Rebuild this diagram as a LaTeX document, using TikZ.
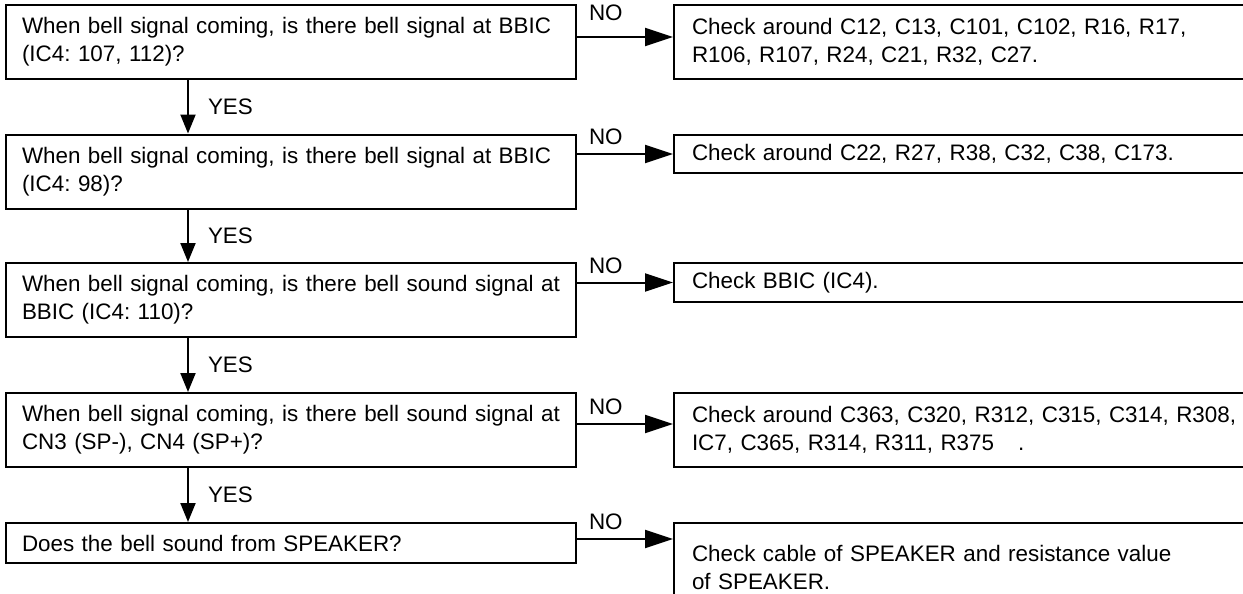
\documentclass[tikz,border=0pt]{standalone}
\usepackage{fontspec}
\setmainfont{Liberation Sans}
\usepackage{tikz}
\usetikzlibrary{
  arrows.meta,
  positioning
}
\frenchspacing

\begin{document}
\begin{tikzpicture}[
    x=0.5pt, y=-0.5pt,
    font=\fontsize{11.2pt}{14pt}\selectfont,
    query/.style={
      rectangle,
      draw=black,
      line width=1pt,
      minimum height=37pt,
      text width=269pt,
      inner xsep=8pt,
      inner ysep=0pt,
      align=left
    },
    action/.style={
      rectangle,
      draw=black,
      line width=1pt,
      text width=302pt,
      inner xsep=9pt,
      inner ysep=0pt,
      align=left
    },
    yesflow/.style={
      -{Triangle[length=9.5pt, width=7.5pt]},
      line width=1pt
    },
    noflow/.style={
      -{Triangle[length=14pt, width=9pt]},
      line width=1pt
    },
    lbl/.style={
      inner sep=0pt
    }
  ]
    \useasboundingbox (0,0) rectangle (1243,594);
    \clip (0,0) rectangle (1243,594);

    % ---- Left column: questions ----
    \node[query] (q1) at (291, 42)    {When bell signal coming, is there bell signal at BBIC\\(IC4: 107, 112)?};
    \node[query] (q2) at (291, 171.5) {When bell signal coming, is there bell signal at BBIC\\(IC4: 98)?};
    \node[query] (q3) at (291, 300)   {When bell signal coming, is there bell sound signal at\\BBIC (IC4: 110)?};
    \node[query] (q4) at (291, 430)   {When bell signal coming, is there bell sound signal at\\CN3 (SP-), CN4 (SP+)?};
    \node[query, minimum height=20pt] (q5) at (291, 543) {Does the bell sound from SPEAKER?};

    % ---- Right column: checks ----
    \node[action, minimum height=37pt]   (c1) at (994, 42)    {Check around C12, C13, C101, C102, R16, R17,\\R106, R107, R24, C21, R32, C27.};
    \node[action, minimum height=19pt]   (c2) at (994, 154)   {Check around C22, R27, R38, C32, C38, C173.};
    \node[action, minimum height=19.5pt] (c3) at (994, 282.5) {Check BBIC (IC4).};
    \node[action, minimum height=37pt]   (c4) at (994, 430)   {Check around C363, C320, R312, C315, C314, R308,\\IC7, C365, R314, R311, R375\hspace{12pt}.};
    \node[action, minimum height=44pt]   (c5) at (994, 567)   {Check cable of SPEAKER and resistance value\\of SPEAKER.};

    % ---- YES: down the left column ----
    \draw[yesflow] ([xshift=91.5pt]q1.south west) -- ([xshift=91.5pt]q2.north west)
      node[lbl, midway, right=9.5pt] {YES};
    \draw[yesflow] ([xshift=91.5pt]q2.south west) -- ([xshift=91.5pt]q3.north west)
      node[lbl, midway, right=9.5pt] {YES};
    \draw[yesflow] ([xshift=91.5pt]q3.south west) -- ([xshift=91.5pt]q4.north west)
      node[lbl, midway, right=9.5pt] {YES};
    \draw[yesflow] ([xshift=91.5pt]q4.south west) -- ([xshift=91.5pt]q5.north west)
      node[lbl, midway, right=9.5pt] {YES};

    % ---- NO: across to the checks ----
    \draw[noflow] ([yshift=2.5pt]q1.east) -- ([yshift=2.5pt]q1.east -| c1.west)
      node[lbl, pos=0.3, above=7.5pt] {NO};
    \draw[noflow] (q2.east |- c2.west) -- (c2.west)
      node[lbl, pos=0.3, above=4pt] {NO};
    \draw[noflow] (q3.east |- c3.west) -- (c3.west)
      node[lbl, pos=0.3, above=4pt] {NO};
    \draw[noflow] ([yshift=3pt]q4.east) -- ([yshift=3pt]q4.east -| c4.west)
      node[lbl, pos=0.3, above=4pt] {NO};
    \draw[noflow] ([yshift=2pt]q5.east) -- ([yshift=2pt]q5.east -| c5.west)
      node[lbl, pos=0.3, above=4pt] {NO};
  \end{tikzpicture}
\end{document}
